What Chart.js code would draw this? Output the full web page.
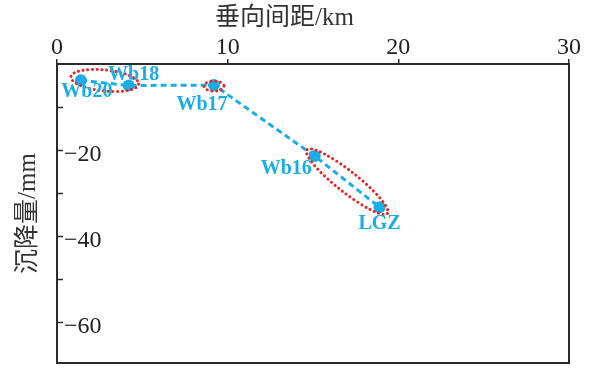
<!DOCTYPE html>
<html>
<head>
<meta charset="utf-8">
<script src="https://cdn.jsdelivr.net/npm/chart.js@4/dist/chart.umd.min.js"></script>
<style>
  html, body { margin: 0; padding: 0; background: #fff; }
  #wrap { width: 590px; height: 368px; }
</style>
</head>
<body>
<div id="wrap"><canvas id="c" width="590" height="368"></canvas></div>
<script>
// Station data: vertical distance (km) and settlement (mm)
const stationNames = ['Wb20', 'Wb18', 'Wb17', 'Wb16', 'LGZ'];
const distanceKm = [1.4, 4.2, 9.2, 15.1, 18.9];
const settlementMm = [-3.8, -5.0, -4.9, -21.4, -33.3];

// Axis ticks
const xTickValues = [0, 10, 20, 30];
const yTickValues = [0, -10, -20, -30, -40, -50, -60];
const yTickLabels = [-20, -40, -60];

// Stations circled together
const stationGroups = [['Wb20', 'Wb18'], ['Wb17'], ['Wb16', 'LGZ']];

// Styling
const BLUE = '#19aee5';
const RED = '#e5262b';
const FRAME = '#2b2b2b';
const labelOffsets = { Wb20: [6, 11.5], Wb18: [5, -11], Wb17: [-12, 20], Wb16: [-28.5, 13], LGZ: [0, 16.5] };
const groupPadding = [[10, 10.5, -2.5], [10, 5, 1], [10, 10.5, 0]]; // [extra half-length, half-width, vertical shift]

const points = distanceKm.map((d, i) => ({ x: d, y: settlementMm[i] }));

const framePlugin = {
  id: 'frame',
  afterDraw(chart) {
    const { ctx, chartArea: a } = chart;
    ctx.save();
    ctx.strokeStyle = FRAME;
    ctx.lineWidth = 2;
    ctx.strokeRect(a.left, a.top, a.right - a.left, a.bottom - a.top);
    // inward ticks on the settlement axis
    const ys = chart.scales.y;
    ctx.lineWidth = 1.5;
    ys.ticks.forEach(t => {
      if (t.value >= ys.max || t.value <= ys.min) return;
      const py = Math.round(ys.getPixelForValue(t.value)) + 0.5;
      ctx.beginPath();
      ctx.moveTo(a.left, py);
      ctx.lineTo(a.left + 6, py);
      ctx.stroke();
    });
    ctx.restore();
  }
};

const groupPlugin = {
  id: 'groups',
  afterDatasetsDraw(chart) {
    const { ctx } = chart;
    const meta = chart.getDatasetMeta(0);
    ctx.save();
    ctx.strokeStyle = RED;
    ctx.lineWidth = 3;
    ctx.lineCap = 'round';
    ctx.setLineDash([0.1, 4.6]);
    stationGroups.forEach((g, gi) => {
      const els = g.map(n => meta.data[stationNames.indexOf(n)]);
      const p0 = els[0], p1 = els[els.length - 1];
      const cx = (p0.x + p1.x) / 2;
      const cy = (p0.y + p1.y) / 2 + groupPadding[gi][2];
      const dx = p1.x - p0.x, dy = p1.y - p0.y;
      const half = Math.hypot(dx, dy) / 2;
      const ang = Math.atan2(dy, dx);
      ctx.beginPath();
      ctx.ellipse(cx, cy, half + groupPadding[gi][0], groupPadding[gi][1], ang, 0, Math.PI * 2);
      ctx.stroke();
    });
    ctx.restore();
  }
};

const labelPlugin = {
  id: 'stationLabels',
  afterDatasetsDraw(chart) {
    const { ctx } = chart;
    const meta = chart.getDatasetMeta(0);
    ctx.save();
    ctx.fillStyle = BLUE;
    ctx.font = 'bold 20px "Liberation Serif", "Times New Roman", serif';
    ctx.textAlign = 'center';
    ctx.textBaseline = 'middle';
    stationNames.forEach((n, i) => {
      const el = meta.data[i];
      const off = labelOffsets[n];
      ctx.fillText(n, el.x + off[0], el.y + off[1]);
    });
    ctx.restore();
  }
};

new Chart(document.getElementById('c'), {
  type: 'scatter',
  data: {
    datasets: [{
      data: points,
      showLine: true,
      borderColor: BLUE,
      borderWidth: 3,
      borderDash: [6, 4],
      backgroundColor: BLUE,
      pointBackgroundColor: BLUE,
      pointBorderWidth: 0,
      pointRadius: 6
    }]
  },
  options: {
    responsive: false,
    animation: false,
    layout: { padding: { left: 0, right: 21, top: 0, bottom: 5 }, autoPadding: false },
    plugins: {
      legend: { display: false },
      tooltip: { enabled: false },
      title: {
        display: true,
        text: '垂向间距/km',
        color: '#333',
        font: { family: '"Liberation Serif", "Noto Sans CJK SC", serif', size: 25, weight: 'normal', lineHeight: 1.2 },
        padding: { top: 3, bottom: 1 }
      }
    },
    scales: {
      x: {
        type: 'linear',
        position: 'top',
        min: 0,
        max: 30,
        afterBuildTicks(scale) { scale.ticks = xTickValues.map(v => ({ value: v })); },
        afterFit(scale) { scale.height = 30; scale.paddingLeft = 0; scale.paddingRight = 0; },
        ticks: {
          color: '#222',
          padding: 0,
          font: { family: '"Liberation Serif", serif', size: 24, lineHeight: 0.9 }
        },
        grid: { drawOnChartArea: false, drawTicks: true, tickLength: 5, color: FRAME, lineWidth: 1.5 },
        border: { display: true, color: FRAME, width: 2 }
      },
      y: {
        type: 'linear',
        position: 'left',
        min: -69.5,
        max: 0,
        afterBuildTicks(scale) { scale.ticks = yTickValues.map(v => ({ value: v })); },
        afterFit(scale) { scale.width = 57; scale.paddingTop = 0; scale.paddingBottom = 0; },
        ticks: {
          mirror: true,
          padding: 7,
          color: '#222',
          font: { family: '"Liberation Serif", serif', size: 24, lineHeight: '9px' },
          callback: v => yTickLabels.includes(v) ? ['', '\u2212' + Math.abs(v)] : ''
        },
        grid: { drawOnChartArea: false, drawTicks: false },
        border: { display: true, color: FRAME, width: 2 },
        title: {
          display: true,
          text: '沉降量/mm',
          color: '#333',
          font: { family: '"Liberation Serif", "Noto Sans CJK SC", serif', size: 25, lineHeight: 1.2 },
          padding: { top: 13, bottom: 0 }
        }
      }
    }
  },
  plugins: [framePlugin, groupPlugin, labelPlugin]
});
</script>
</body>
</html>
